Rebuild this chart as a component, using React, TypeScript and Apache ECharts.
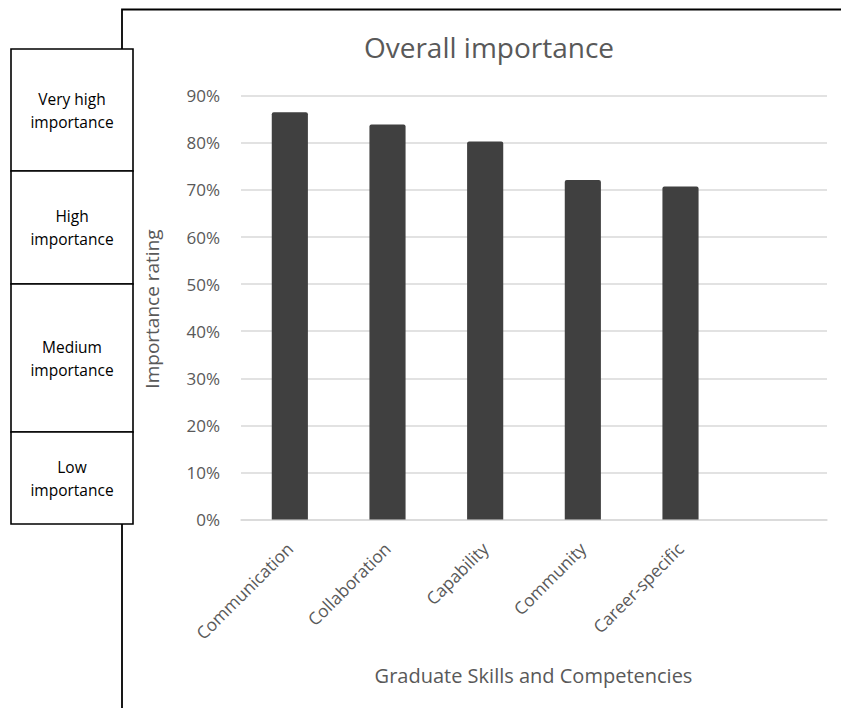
import React, { useEffect, useRef } from "react";
import * as echarts from "echarts";

// Skill categories (the trailing empty slot keeps the spare column on the right)
const categories = ["Communication", "Collaboration", "Capability", "Community", "Career-specific", ""];
// Overall importance rating, percent
const importance = [86.5, 83.9, 80.3, 72.1, 70.7, null];
// Rating bands shown in the side legend, top to bottom
const bandLabels = ["Very high\nimportance", "High\nimportance", "Medium\nimportance", "Low\nimportance"];
const bandEdges = [49, 171, 284, 432, 524];

const FONT = "'Open Sans', 'Noto Sans', sans-serif";
const GREY = "#595959";

export default function App() {
  const ref = useRef<HTMLDivElement>(null);

  useEffect(() => {
    if (!ref.current) return;
    const chart = echarts.init(ref.current, undefined, { renderer: "svg" });

    const boxX = 11;
    const boxW = 122;
    const bandGraphics: any[] = [];
    bandLabels.forEach((label, i) => {
      const y0 = bandEdges[i];
      const y1 = bandEdges[i + 1];
      bandGraphics.push({
        type: "rect",
        shape: { x: boxX, y: y0, width: boxW, height: y1 - y0 },
        style: { fill: "#ffffff", stroke: "#000000", lineWidth: 1.6 },
        z: 10,
      });
      bandGraphics.push({
        type: "text",
        x: boxX + boxW / 2,
        y: (y0 + y1) / 2,
        style: {
          text: label,
          fill: "#000000",
          font: `15.5px ${FONT}`,
          align: "center",
          verticalAlign: "middle",
          lineHeight: 23,
        },
        z: 11,
      });
    });

    chart.setOption({
      animation: false,
      backgroundColor: "#ffffff",
      title: {
        text: "Overall importance",
        left: 484,
        top: 28,
        textAlign: "center",
        textStyle: { fontFamily: FONT, fontSize: 28, fontWeight: "normal", color: GREY },
      },
      grid: { left: 241, right: 14, top: 95.7, bottom: 188.4, containLabel: false },
      xAxis: {
        type: "category",
        data: categories,
        axisTick: { show: false },
        axisLine: { show: true, lineStyle: { color: "#d9d9d9", width: 1.5 } },
        axisLabel: {
          rotate: 45,
          margin: 26,
          interval: 0,
          fontFamily: FONT,
          fontSize: 17.3,
          color: GREY,
        },
      },
      yAxis: {
        type: "value",
        min: 0,
        max: 90,
        interval: 10,
        axisLine: { show: false },
        axisTick: { show: false },
        axisLabel: {
          formatter: "{value}%",
          margin: 21,
          fontFamily: FONT,
          fontSize: 17,
          color: GREY,
        },
        splitLine: { lineStyle: { color: "#d9d9d9", width: 1.5 } },
      },
      series: [
        {
          type: "bar",
          data: importance,
          barWidth: "37%",
          itemStyle: { color: "#404040", borderRadius: [2, 2, 0, 0] },
        },
      ],
      graphic: [
        // outer frame: top edge and left edge
        {
          type: "polyline",
          shape: { points: [[841, 9.5], [122, 9.5], [122, 708]] },
          style: { stroke: "#000000", lineWidth: 1.8, fill: "none" },
          z: 5,
        },
        ...bandGraphics,
        {
          type: "text",
          x: 152,
          y: 309,
          rotation: Math.PI / 2,
          style: {
            text: "Importance rating",
            fill: GREY,
            font: `19px ${FONT}`,
            align: "center",
            verticalAlign: "middle",
          },
        },
        {
          type: "text",
          x: 533.5,
          y: 675,
          style: {
            text: "Graduate Skills and Competencies",
            fill: GREY,
            font: `20px ${FONT}`,
            align: "center",
            verticalAlign: "middle",
          },
        },
      ],
    });

    return () => chart.dispose();
  }, []);

  return (
    <div
      ref={ref}
      style={{ position: "fixed", left: 0, top: 0, width: 841, height: 708 }}
    />
  );
}
